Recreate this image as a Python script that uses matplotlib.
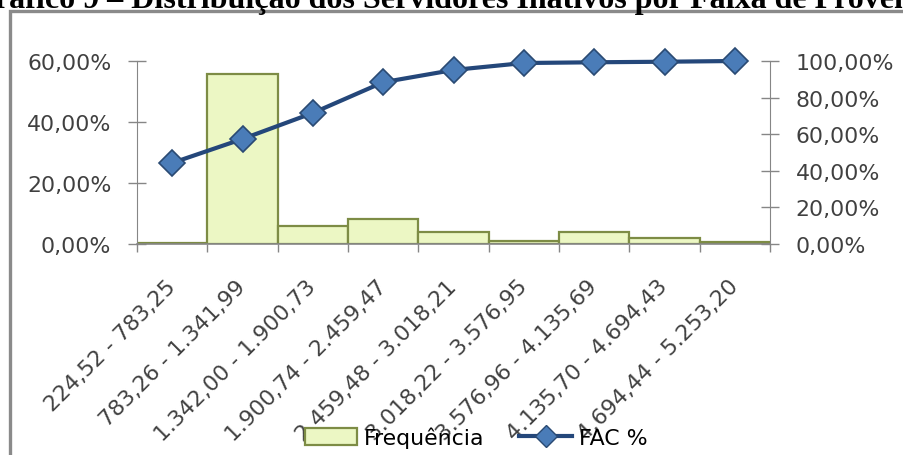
import matplotlib
matplotlib.use("Agg")
import matplotlib.pyplot as plt
from matplotlib.patches import Rectangle, Patch
from matplotlib.lines import Line2D
from matplotlib.ticker import FixedLocator

# Salary bands (R$) and their shares
faixas = ["224,52 - 783,25", "783,26 - 1.341,99", "1.342,00 - 1.900,73",
          "1.900,74 - 2.459,47", "2.459,48 - 3.018,21", "3.018,22 - 3.576,95",
          "3.576,96 - 4.135,69", "4.135,70 - 4.694,43", "4.694,44 - 5.253,20"]
frequencia = [0.002, 0.557, 0.060, 0.082, 0.040, 0.011, 0.038, 0.020, 0.007]
fac = [0.443, 0.574, 0.716, 0.884, 0.951, 0.989, 0.993, 0.996, 1.000]

left_ticks = [0.0, 0.2, 0.4, 0.6]
left_labels = ["0,00%", "20,00%", "40,00%", "60,00%"]
right_ticks = [0.0, 0.2, 0.4, 0.6, 0.8, 1.0]
right_labels = ["0,00%", "20,00%", "40,00%", "60,00%", "80,00%", "100,00%"]

titulo = "Gráfico 9 – Distribuição dos Servidores Inativos por Faixa de Proventos"
titulo_antes = "Gráfico 9 – Distribuição dos Servidores Inativos "

W, H = 904, 456
fig = plt.figure(figsize=(W / 100, H / 100), dpi=100)
fig.patch.set_facecolor("white")

FONT = "DejaVu Sans"
FS = 15.8
TXT = "#404040"
AXC = "#868686"
BAR_FACE = "#ecf7c4"
BAR_EDGE = "#7d8c45"
LINE_C = "#24477a"
MK_FACE = "#4a7cb8"
MK_EDGE = "#2a4a73"

# chart frame
fig.add_artist(Rectangle((9.5 / W, -0.1), 1.2, 1 - 12 / H + 0.1,
                         transform=fig.transFigure, facecolor="white",
                         edgecolor="#8a8a8a", linewidth=2.4, zorder=0))

ax = fig.add_axes([137 / W, 1 - 245 / H, 633 / W, 183 / H])
ax.set_facecolor("none")
x = list(range(len(faixas)))
ax.bar(x, frequencia, width=1.0, color=BAR_FACE, edgecolor=BAR_EDGE,
       linewidth=1.6, zorder=2)
ax.set_xlim(-0.5, len(faixas) - 0.5)
ax.set_ylim(0, 0.6)
ax.set_yticks(left_ticks)
ax.set_yticklabels(left_labels, fontfamily=FONT, fontsize=FS, color=TXT)
ax.tick_params(axis="y", direction="inout", length=13, width=1, color=AXC, pad=12)
ax.set_xticks(x)
ax.set_xticklabels(faixas, rotation=45, ha="right", va="center",
                   rotation_mode="anchor", fontfamily=FONT, fontsize=FS,
                   color=TXT)
ax.tick_params(axis="x", which="major", length=0, pad=28)
ax.xaxis.set_minor_locator(FixedLocator([i - 0.5 for i in range(len(faixas) + 1)]))
ax.tick_params(axis="x", which="minor", direction="out", length=6, width=1, color=AXC)
for s in ("top", "right"):
    ax.spines[s].set_visible(False)
ax.spines["left"].set_color(AXC)
ax.spines["bottom"].set_color(AXC)
ax.spines["bottom"].set_linewidth(1.2)

ax2 = ax.twinx()
ax2.plot(x, fac, color=LINE_C, linewidth=3.0, marker="D", markersize=13,
         markerfacecolor=MK_FACE, markeredgecolor=MK_EDGE, markeredgewidth=1.2,
         zorder=3, clip_on=False)
ax2.set_ylim(0, 1.0)
ax2.set_yticks(right_ticks)
ax2.set_yticklabels(right_labels, fontfamily=FONT, fontsize=FS, color=TXT)
ax2.tick_params(axis="y", direction="inout", length=13, width=1, color=AXC, pad=12)
for s in ("top", "left", "bottom"):
    ax2.spines[s].set_visible(False)
ax2.spines["right"].set_color(AXC)

handles = [Patch(facecolor=BAR_FACE, edgecolor=BAR_EDGE, linewidth=1.6),
           Line2D([0], [0], color=LINE_C, linewidth=3.0, marker="D",
                  markersize=11, markerfacecolor=MK_FACE,
                  markeredgecolor=MK_EDGE)]
fig.legend(handles, ["Frequência", "FAC %"], loc="center",
           bbox_to_anchor=(476 / W, 1 - 438 / H), ncol=2, frameon=False,
           prop={"family": FONT, "size": FS}, handlelength=2.4,
           handleheight=0.8, handletextpad=0.3, columnspacing=1.6)

# title, positioned so that "por" lands near the right part of the frame
TFS = 23
fig.canvas.draw()
r = fig.canvas.get_renderer()
probe = fig.text(0, 0, titulo_antes, fontfamily="Liberation Serif",
                 fontweight="bold", fontsize=TFS)
w_pre = probe.get_window_extent(r).width
probe.remove()
fig.text((635 - w_pre) / W, 1 - 8 / H, titulo, fontfamily="Liberation Serif",
         fontweight="bold", fontsize=TFS, ha="left", va="baseline",
         color="black")

fig.savefig("out.png", dpi=100, facecolor="white")
